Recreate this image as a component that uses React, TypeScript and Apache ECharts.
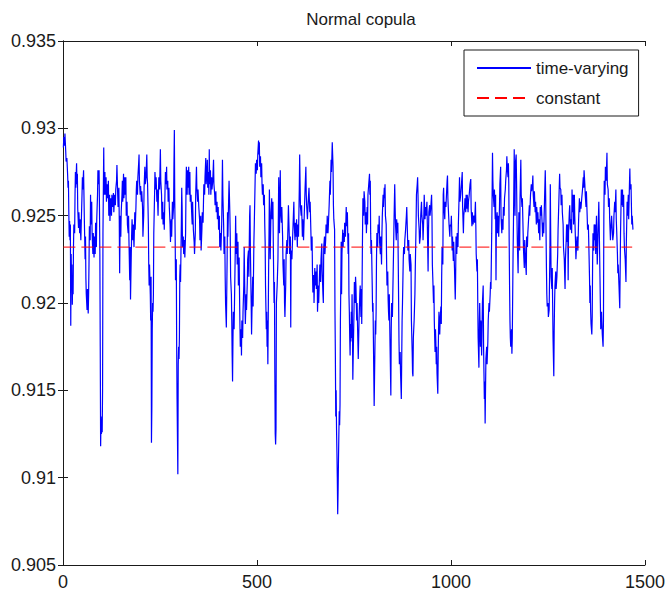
import React, { useEffect, useRef } from "react";
import * as echarts from "echarts";

const chartTitle = "Normal copula";
const seriesNames = ["time-varying", "constant"];
const xTickValues = [0, 500, 1000, 1500];
const yTickValues = [0.905, 0.91, 0.915, 0.92, 0.925, 0.93, 0.935];
const constantLevel = 0.9232;
const constantSpan = [1, 1467];

type P = [number, number];

const segA: P[] = [[1,0.9289],[2,0.9295],[4,0.929],[5,0.9297],[7,0.9287],[8,0.9281],[10,0.9283],[11,0.9278],[12,0.9273],[13,0.9266],[14,0.927],[15,0.9252],[16,0.9238],[17,0.9247],[18,0.9236],[19,0.9245],[20,0.9187],[21,0.9228],[22,0.9214],[23,0.9222],[24,0.9199],[25,0.9215],[26,0.9205],[27,0.9232],[28,0.9245],[30,0.924],[31,0.9262],[32,0.9275],[33,0.9266],[35,0.928],[36,0.9268],[37,0.9274],[38,0.9254],[40,0.9243],[41,0.9252],[43,0.924],[44,0.9248],[46,0.9236],[47,0.9245],[49,0.9262],[50,0.9272],[51,0.9265],[53,0.9276],[54,0.9262],[55,0.9248],[57,0.9225],[58,0.9238],[59,0.9214],[60,0.9205],[62,0.9196],[63,0.9208],[65,0.9194],[66,0.9205],[67,0.9222],[68,0.9244],[70,0.9236],[71,0.9262],[72,0.9245],[74,0.9258],[75,0.924],[77,0.9228],[78,0.924],[80,0.9226],[81,0.9238],[83,0.9228],[84,0.9246],[86,0.9232],[87,0.9248],[89,0.9262],[90,0.9276],[92,0.9268],[93,0.9276],[94,0.9255],[95,0.9228],[96,0.9175],[97,0.9118],[98,0.9135],[99,0.9125],[100,0.9132],[101,0.9126],[102,0.915],[103,0.924],[105,0.9289],[106,0.9262],[108,0.9275],[109,0.9262],[111,0.9272],[112,0.9258],[114,0.9268],[115,0.926],[117,0.927],[118,0.925],[120,0.9262],[121,0.9247],[123,0.926],[125,0.925],[126,0.9262],[128,0.9255],[130,0.9263],[131,0.9252],[133,0.9262],[135,0.9256],[136,0.9265],[138,0.927],[139,0.9279],[141,0.9262],[142,0.9255],[144,0.9266],[145,0.9248],[146,0.9217],[147,0.9242],[148,0.925],[149,0.9238],[150,0.9252],[152,0.9262],[153,0.927],[154,0.9258],[156,0.9274],[157,0.926],[159,0.9272],[160,0.9262],[162,0.9272],[163,0.925],[165,0.9258],[166,0.9245],[168,0.924],[169,0.925],[170,0.9236],[172,0.9213],[173,0.9232],[174,0.9202],[176,0.9228],[177,0.924],[178,0.9248],[180,0.9236],[181,0.9245],[183,0.9232]];

const segB: P[] = [[185,0.9252],[186,0.9242],[188,0.9255],[189,0.9265],[190,0.927],[192,0.9262],[193,0.9272],[195,0.928],[196,0.9285],[197,0.927],[199,0.9262],[200,0.9267],[202,0.9258],[203,0.9264],[205,0.9255],[206,0.9238],[208,0.925],[209,0.9266],[211,0.9278],[212,0.9268],[214,0.9272],[216,0.9285],[217,0.9272],[218,0.9268],[220,0.9245],[221,0.9222],[222,0.921],[223,0.9222],[225,0.9205],[226,0.919],[227,0.9215],[228,0.912],[229,0.914],[230,0.9185],[231,0.92],[232,0.9195],[233,0.9205],[234,0.924],[236,0.9262],[237,0.9275],[239,0.9265],[240,0.9272],[242,0.9258],[243,0.9265],[245,0.925],[246,0.9262],[247,0.9272],[249,0.9265],[251,0.9288],[252,0.927],[254,0.9262],[255,0.9248],[257,0.9258],[258,0.9245],[260,0.9252],[261,0.9242],[263,0.9265],[264,0.9275],[266,0.9268],[267,0.9278],[268,0.9265],[270,0.927],[271,0.9258],[273,0.9266],[274,0.9255],[276,0.9245],[277,0.9235],[279,0.9248],[280,0.9238],[282,0.9258],[283,0.9248],[285,0.9255],[286,0.928],[287,0.9299],[288,0.926],[289,0.924],[290,0.9213],[292,0.9225],[293,0.9175],[294,0.9145],[296,0.9102],[297,0.9165],[298,0.9175],[299,0.9168],[300,0.918],[301,0.9215],[302,0.9222],[303,0.9212],[305,0.9245],[306,0.9266],[307,0.9255],[308,0.9232],[310,0.9238],[311,0.9228],[313,0.9236],[314,0.9226],[316,0.924],[317,0.9265],[318,0.9278],[320,0.9262],[321,0.9276],[323,0.9266],[324,0.9278],[325,0.9262],[327,0.9275],[328,0.9258],[330,0.9262],[331,0.9255],[333,0.9245],[334,0.9258],[336,0.9242],[338,0.9235],[339,0.9228],[341,0.924],[342,0.9262],[344,0.9278],[345,0.9266],[347,0.9258],[348,0.9265],[350,0.9255],[352,0.9248],[353,0.9236],[355,0.925],[356,0.923],[358,0.9242],[359,0.9252],[361,0.9246],[363,0.9268],[365,0.9262],[366,0.9272],[368,0.9283],[369,0.9268],[371,0.9275]];

const segC: P[] = [[372,0.9282],[373,0.9266],[375,0.9275],[376,0.9262],[377,0.9288],[378,0.9268],[380,0.9276],[381,0.9262],[383,0.9272],[384,0.9265],[386,0.927],[388,0.9282],[389,0.9268],[391,0.9262],[392,0.9256],[394,0.9264],[395,0.9252],[397,0.9258],[398,0.9248],[400,0.9255],[401,0.9242],[403,0.925],[404,0.9232],[406,0.924],[407,0.923],[409,0.9245],[410,0.9262],[411,0.9282],[412,0.9262],[414,0.9245],[415,0.9228],[417,0.9238],[418,0.9215],[419,0.92],[421,0.9186],[422,0.9205],[423,0.9225],[424,0.9252],[425,0.9238],[427,0.926],[428,0.927],[430,0.9252],[431,0.924],[432,0.9215],[434,0.9205],[435,0.919],[436,0.917],[437,0.9155],[438,0.9178],[439,0.9195],[441,0.9185],[442,0.92],[444,0.923],[445,0.925],[446,0.9228],[448,0.924],[449,0.9222],[451,0.9235],[452,0.921],[454,0.9226],[455,0.9205],[456,0.9188],[457,0.9175],[459,0.9185],[460,0.917],[461,0.919],[463,0.918],[464,0.9195],[466,0.921],[467,0.9232],[468,0.9215],[469,0.92],[470,0.9188],[472,0.9205],[473,0.9196],[475,0.9212],[476,0.9225],[478,0.923],[479,0.9215],[481,0.925],[482,0.9256],[483,0.923],[485,0.92],[486,0.9182],[487,0.9195],[489,0.9215],[490,0.9198],[492,0.9235],[493,0.9245],[495,0.9268],[496,0.928],[498,0.9274],[499,0.9282],[501,0.9276],[502,0.9285],[504,0.9293],[505,0.9285],[506,0.9292],[507,0.9278],[509,0.9284],[510,0.9272],[512,0.928],[513,0.9268],[514,0.9262],[516,0.9268],[517,0.9256],[519,0.9262],[520,0.9245],[521,0.9235],[522,0.921],[524,0.9185],[525,0.9195],[526,0.9175],[527,0.919],[528,0.9165],[530,0.922],[531,0.924],[532,0.9265],[533,0.9245],[534,0.9225],[536,0.9252],[538,0.926],[539,0.9248],[541,0.9258],[542,0.9235],[543,0.9215],[544,0.92],[545,0.9212],[546,0.916],[547,0.9125],[548,0.9119],[549,0.9128],[550,0.92],[551,0.9205],[552,0.921],[554,0.9225],[556,0.9272]];

const segD: P[] = [[558,0.924],[560,0.9276],[561,0.9252],[563,0.9246],[564,0.9255],[566,0.9238],[567,0.9222],[569,0.921],[570,0.9225],[571,0.92],[572,0.9192],[574,0.921],[575,0.9228],[577,0.9236],[578,0.9228],[580,0.9245],[581,0.9256],[583,0.924],[584,0.9228],[586,0.9238],[587,0.9186],[588,0.923],[590,0.9225],[591,0.9232],[593,0.9245],[595,0.9258],[596,0.9245],[598,0.9236],[599,0.9246],[601,0.9238],[602,0.9248],[604,0.9232],[605,0.9245],[607,0.9238],[609,0.9265],[610,0.9285],[611,0.927],[612,0.9255],[614,0.925],[615,0.9256],[617,0.9238],[618,0.9248],[620,0.9236],[622,0.9252],[624,0.9266],[626,0.9278],[627,0.9262],[628,0.9256],[630,0.9248],[632,0.9258],[634,0.9266],[636,0.9252],[637,0.9258],[639,0.924],[640,0.923],[642,0.9238],[643,0.9218],[644,0.9206],[646,0.9216],[647,0.92],[649,0.922],[650,0.921],[652,0.9218],[653,0.9208],[655,0.9222],[656,0.9195],[658,0.921],[659,0.92],[661,0.9215],[662,0.9222],[664,0.9212],[665,0.9225],[667,0.9234],[668,0.9218],[670,0.9205],[671,0.92],[672,0.9232],[674,0.9238],[675,0.9228],[677,0.9236],[678,0.9245],[680,0.924],[681,0.925],[683,0.924],[684,0.9245],[686,0.9256],[688,0.927],[689,0.9262],[691,0.9282],[692,0.9275],[694,0.9292],[695,0.9285],[696,0.9278],[697,0.9256],[698,0.9248],[700,0.9242],[701,0.9195],[702,0.917],[703,0.9135],[704,0.915],[705,0.9128],[706,0.9115],[707,0.91],[708,0.9079],[709,0.9092],[710,0.911],[711,0.9125],[712,0.9138],[713,0.913],[714,0.9142],[715,0.919],[716,0.921],[717,0.9235],[718,0.9205],[719,0.9228],[721,0.9242],[722,0.9232],[723,0.924],[725,0.9235],[726,0.9246],[728,0.9238],[730,0.9255],[731,0.9244],[733,0.9252],[734,0.9238],[735,0.9228],[736,0.924],[737,0.9205],[738,0.9195],[739,0.918],[740,0.917],[741,0.9188],[742,0.9178]];

const segE: P[] = [[743,0.9195],[744,0.918],[745,0.9205],[746,0.9188],[747,0.9156],[748,0.917],[750,0.9195],[751,0.9212],[753,0.92],[754,0.9215],[755,0.921],[757,0.919],[758,0.92],[760,0.9178],[761,0.9168],[763,0.919],[765,0.9205],[766,0.921],[768,0.9192],[769,0.9208],[770,0.9188],[772,0.924],[773,0.926],[775,0.925],[776,0.9264],[778,0.9258],[779,0.9245],[781,0.9252],[782,0.924],[784,0.9255],[785,0.9245],[786,0.9262],[788,0.9268],[790,0.9274],[791,0.9262],[792,0.927],[793,0.924],[794,0.9228],[795,0.9236],[797,0.921],[798,0.9195],[799,0.92],[800,0.918],[801,0.916],[802,0.9141],[803,0.9158],[804,0.9175],[805,0.919],[806,0.9182],[807,0.9195],[808,0.9225],[809,0.924],[811,0.9232],[812,0.9245],[814,0.924],[815,0.925],[816,0.9235],[818,0.9228],[819,0.9238],[821,0.9222],[822,0.924],[823,0.925],[825,0.9262],[826,0.9255],[828,0.9266],[829,0.926],[830,0.9268],[831,0.925],[833,0.9245],[834,0.9225],[835,0.921],[837,0.9218],[838,0.9202],[839,0.9195],[840,0.919],[841,0.9205],[843,0.9175],[845,0.9147],[846,0.9185],[847,0.92],[849,0.9192],[850,0.9205],[852,0.923],[853,0.9245],[855,0.9268],[856,0.9255],[857,0.9245],[859,0.9236],[860,0.9248],[862,0.924],[863,0.9246],[864,0.9225],[865,0.9202],[866,0.9178],[867,0.9165],[869,0.9172],[870,0.916],[872,0.9145],[873,0.9168],[874,0.919],[875,0.92],[877,0.9225],[878,0.9232],[880,0.9228],[881,0.9236],[883,0.9242],[885,0.925],[886,0.9255],[888,0.9238],[889,0.923],[891,0.9236],[892,0.9225],[894,0.9218],[895,0.9228],[897,0.9222],[898,0.919],[900,0.9172],[901,0.916],[902,0.9158],[903,0.918],[905,0.919],[907,0.9205],[908,0.922],[910,0.9245],[911,0.9262],[913,0.9268],[914,0.9272],[915,0.9262],[916,0.925],[918,0.9242],[919,0.9234],[921,0.9238],[922,0.925],[924,0.9258],[925,0.925]];

const segF: P[] = [[927,0.9245],[928,0.9236],[930,0.925],[931,0.9262],[933,0.9248],[934,0.9255],[936,0.925],[938,0.9258],[940,0.9232],[941,0.9218],[942,0.924],[943,0.9252],[945,0.9256],[946,0.925],[948,0.9255],[950,0.9262],[951,0.925],[952,0.9222],[953,0.9215],[955,0.92],[956,0.921],[957,0.919],[958,0.918],[959,0.9172],[960,0.9185],[961,0.9178],[962,0.9165],[963,0.9175],[964,0.916],[966,0.9148],[967,0.917],[968,0.9185],[969,0.9195],[971,0.9182],[972,0.919],[974,0.9198],[975,0.9188],[976,0.9215],[977,0.9232],[979,0.9222],[980,0.9262],[981,0.9266],[982,0.9255],[984,0.9248],[985,0.9258],[987,0.9255],[989,0.9265],[990,0.927],[991,0.9273],[992,0.926],[994,0.925],[995,0.9245],[997,0.9238],[998,0.9245],[1000,0.9244],[1001,0.925],[1003,0.923],[1004,0.9238],[1006,0.9224],[1007,0.9235],[1009,0.922],[1011,0.9202],[1012,0.9215],[1013,0.9238],[1015,0.9228],[1016,0.924],[1018,0.9232],[1019,0.9245],[1021,0.9262],[1022,0.9272],[1023,0.9258],[1025,0.9262],[1027,0.9268],[1029,0.9275],[1030,0.9255],[1032,0.924],[1033,0.925],[1035,0.9255],[1036,0.926],[1038,0.9252],[1039,0.9262],[1041,0.9254],[1042,0.9262],[1044,0.9252],[1045,0.9258],[1047,0.9262],[1049,0.9268],[1051,0.9271],[1052,0.9254],[1054,0.9244],[1055,0.9252],[1057,0.9245],[1059,0.925],[1061,0.9246],[1063,0.9258],[1064,0.9245],[1065,0.9228],[1067,0.9218],[1068,0.9225],[1069,0.92],[1070,0.918],[1072,0.9163],[1073,0.9188],[1074,0.92],[1076,0.9175],[1077,0.919],[1079,0.917],[1080,0.9185],[1081,0.92],[1083,0.921],[1084,0.9175],[1085,0.916],[1086,0.9145],[1087,0.9155],[1088,0.9131],[1089,0.915],[1090,0.9168],[1092,0.9175],[1093,0.9165],[1095,0.9178],[1096,0.919],[1098,0.92],[1099,0.9195],[1101,0.9205],[1102,0.9212],[1103,0.9208],[1105,0.924],[1106,0.9262],[1107,0.9286],[1108,0.927],[1109,0.9262],[1111,0.9255],[1112,0.9265],[1114,0.9248]];

const segG: P[] = [[1115,0.9262],[1116,0.9213],[1117,0.9245],[1119,0.9252],[1120,0.924],[1122,0.925],[1123,0.9238],[1125,0.9255],[1126,0.9268],[1128,0.9278],[1129,0.925],[1131,0.924],[1132,0.9248],[1134,0.9242],[1135,0.9255],[1137,0.925],[1138,0.926],[1140,0.9265],[1141,0.927],[1143,0.9276],[1144,0.9284],[1145,0.9278],[1147,0.9272],[1148,0.928],[1149,0.9268],[1150,0.9235],[1151,0.921],[1152,0.919],[1153,0.918],[1154,0.9175],[1156,0.9185],[1157,0.9171],[1158,0.918],[1160,0.9228],[1161,0.9245],[1163,0.9288],[1164,0.9265],[1165,0.925],[1166,0.928],[1168,0.9285],[1169,0.927],[1170,0.925],[1171,0.9235],[1173,0.9217],[1174,0.9238],[1175,0.9252],[1177,0.923],[1178,0.926],[1180,0.9282],[1181,0.9262],[1183,0.9255],[1184,0.926],[1186,0.924],[1187,0.923],[1189,0.922],[1190,0.9236],[1192,0.9225],[1194,0.9216],[1195,0.9238],[1197,0.9232],[1198,0.924],[1200,0.9248],[1202,0.9256],[1203,0.925],[1205,0.9262],[1207,0.9268],[1208,0.9264],[1210,0.9268],[1211,0.9273],[1212,0.9262],[1214,0.9255],[1215,0.9264],[1217,0.9252],[1218,0.9258],[1220,0.9245],[1221,0.9255],[1223,0.9246],[1224,0.9252],[1226,0.924],[1227,0.9248],[1229,0.9236],[1230,0.9255],[1232,0.925],[1233,0.9256],[1235,0.9245],[1236,0.9238],[1238,0.9246],[1239,0.924],[1241,0.9258],[1243,0.9276],[1244,0.9262],[1246,0.922],[1247,0.9205],[1248,0.9198],[1250,0.92],[1251,0.9192],[1253,0.9196],[1255,0.923],[1256,0.9268],[1257,0.924],[1258,0.9215],[1260,0.9208],[1261,0.922],[1262,0.92],[1263,0.918],[1265,0.9158],[1266,0.9185],[1267,0.92],[1268,0.921],[1270,0.9218],[1271,0.9208],[1273,0.9215],[1275,0.9228],[1276,0.9242],[1278,0.9258],[1280,0.9274],[1281,0.9266],[1283,0.9265],[1284,0.9256],[1286,0.9262],[1287,0.9252],[1289,0.9245],[1290,0.9232],[1292,0.9225],[1294,0.9208],[1295,0.9225],[1297,0.9236],[1298,0.9245],[1300,0.9235],[1301,0.9245]];

const segH: P[] = [[1302,0.9213],[1303,0.924],[1305,0.9252],[1306,0.9256],[1308,0.9242],[1309,0.9248],[1311,0.924],[1312,0.9265],[1313,0.9252],[1315,0.9262],[1316,0.9245],[1318,0.9262],[1319,0.925],[1321,0.9235],[1322,0.9225],[1324,0.9235],[1325,0.9238],[1327,0.923],[1329,0.9248],[1331,0.926],[1332,0.9252],[1334,0.9258],[1335,0.9254],[1337,0.926],[1339,0.9265],[1341,0.9272],[1342,0.9266],[1343,0.9276],[1345,0.9268],[1346,0.9262],[1348,0.9255],[1349,0.9264],[1351,0.925],[1352,0.9242],[1354,0.9245],[1355,0.9236],[1357,0.9215],[1358,0.92],[1359,0.921],[1360,0.9195],[1361,0.9188],[1363,0.9182],[1364,0.9192],[1365,0.9222],[1366,0.924],[1368,0.923],[1369,0.9245],[1371,0.9236],[1372,0.9245],[1373,0.9228],[1375,0.925],[1377,0.9222],[1379,0.924],[1381,0.9258],[1382,0.9245],[1384,0.9215],[1385,0.92],[1386,0.9185],[1388,0.9195],[1390,0.9182],[1392,0.9175],[1393,0.919],[1394,0.925],[1395,0.927],[1397,0.9262],[1398,0.9278],[1400,0.927],[1402,0.9286],[1403,0.9268],[1405,0.9265],[1406,0.9255],[1408,0.926],[1409,0.9248],[1411,0.9236],[1412,0.9242],[1414,0.925],[1415,0.9245],[1417,0.9236],[1419,0.924],[1420,0.925],[1422,0.9258],[1423,0.9252],[1425,0.9265],[1426,0.9248],[1427,0.9242],[1429,0.9228],[1430,0.9217],[1431,0.9222],[1433,0.921],[1435,0.9197],[1437,0.924],[1439,0.9265],[1440,0.9256],[1442,0.9265],[1443,0.9255],[1445,0.9262],[1446,0.924],[1447,0.9232],[1449,0.9225],[1451,0.9212],[1452,0.9235],[1454,0.9258],[1455,0.925],[1457,0.9262],[1458,0.9248],[1460,0.9268],[1461,0.9277],[1462,0.9265],[1464,0.9268],[1466,0.9245],[1467,0.925],[1469,0.9242]];

const timeVarying: P[] = [...segA, ...segB, ...segC, ...segD, ...segE, ...segF, ...segG, ...segH];
const constantLine: P[] = [[constantSpan[0], constantLevel], [constantSpan[1], constantLevel]];

const FONT = "'Liberation Sans', Arial, Helvetica, sans-serif";
const INK = "#1a1a1a";

export default function App() {
  const ref = useRef<HTMLDivElement>(null);
  useEffect(() => {
    if (!ref.current) return;
    const chart = echarts.init(ref.current, null, { renderer: "svg" });
    const axisLine = { show: true, lineStyle: { color: INK, width: 1 } };
    const axisTick = { show: true, inside: true, length: 5, lineStyle: { color: INK, width: 1 } };
    const xBase = {
      type: "value",
      min: xTickValues[0],
      max: xTickValues[xTickValues.length - 1],
      interval: xTickValues[1] - xTickValues[0],
      splitLine: { show: false },
      axisLine,
      axisTick,
    };
    const yBase = {
      type: "value",
      min: yTickValues[0],
      max: yTickValues[yTickValues.length - 1],
      interval: 0.005,
      splitLine: { show: false },
      axisLine,
      axisTick,
    };
    chart.setOption({
      animation: false,
      backgroundColor: "#ffffff",
      textStyle: { fontFamily: FONT },
      title: {
        text: chartTitle,
        left: 356,
        top: 6,
        textAlign: "center",
        textStyle: { fontSize: 17, fontWeight: "normal", color: INK, fontFamily: FONT },
      },
      grid: { left: 63, right: 19, top: 41, bottom: 27, containLabel: false },
      legend: {
        data: seriesNames,
        orient: "vertical",
        left: 464,
        top: 50,
        padding: [8, 10, 8, 12],
        itemWidth: 54,
        itemHeight: 2,
        itemGap: 10,
        backgroundColor: "#ffffff",
        borderColor: INK,
        borderWidth: 1,
        borderRadius: 0,
        itemStyle: { opacity: 0 },
        textStyle: { fontSize: 17, lineHeight: 20, color: INK, fontFamily: FONT },
      },
      xAxis: [
        {
          ...xBase,
          position: "bottom",
          axisLabel: {
            fontSize: 18,
            color: INK,
            margin: 8,
            fontFamily: FONT,
            formatter: (v: number) => String(v),
          },
        },
        { ...xBase, position: "top", axisLabel: { show: false } },
      ],
      yAxis: [
        {
          ...yBase,
          position: "left",
          axisLabel: {
            fontSize: 18,
            color: INK,
            margin: 7,
            fontFamily: FONT,
            formatter: (v: number) => String(+v.toFixed(3)),
          },
        },
        { ...yBase, position: "right", axisLabel: { show: false } },
      ],
      series: [
        {
          name: seriesNames[0],
          type: "line",
          xAxisIndex: 0,
          yAxisIndex: 0,
          data: timeVarying,
          symbol: "none",
          showSymbol: false,
          lineStyle: { color: "#0000ff", width: 1.2 },
          itemStyle: { color: "#0000ff" },
          z: 2,
        },
        {
          name: seriesNames[1],
          type: "line",
          xAxisIndex: 0,
          yAxisIndex: 0,
          data: constantLine,
          symbol: "none",
          showSymbol: false,
          lineStyle: { color: "#ff0000", width: 1, type: [12, 6] },
          itemStyle: { color: "#ff0000" },
          z: 3,
        },
      ],
    });
    return () => chart.dispose();
  }, []);
  return (
    <div
      ref={ref}
      style={{ position: "fixed", left: 0, top: 0, width: 668, height: 592, background: "#fff" }}
    />
  );
}
